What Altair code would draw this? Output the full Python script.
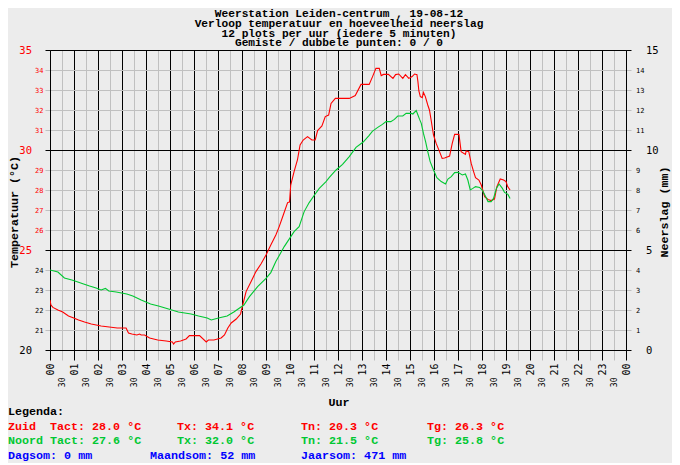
import altair as alt
import pandas as pd

MONO = "DejaVu Sans Mono"
LMONO = "Liberation Mono"
RED = "#ff0000"
GREEN = "#00c832"
BLUE = "#0000ff"
BG = "#ececec"

# ---- data ----
zuid_hours = [0.00, 0.04, 0.12, 0.33, 0.53, 0.77, 0.99, 1.19, 1.44, 1.72, 2.13, 2.80, 3.17, 3.27, 3.41, 3.62,
              3.73, 3.80, 3.94, 4.15, 4.49, 4.84, 5.10, 5.15, 5.22, 5.44, 5.67, 5.81, 6.02, 6.23, 6.51, 6.60,
              6.83, 7.13, 7.27, 7.41, 7.55, 7.76, 7.94, 8.03, 8.17, 8.38, 8.58, 8.79, 9.00, 9.20, 9.41, 9.55,
              9.72, 9.90, 9.98, 10.03, 10.17, 10.31, 10.42, 10.55, 10.73, 10.91, 11.05, 11.15, 11.33, 11.47,
              11.61, 11.71, 11.89, 12.47, 12.72, 12.96, 13.30, 13.44, 13.58, 13.72, 13.80, 13.90, 14.10, 14.29,
              14.40, 14.53, 14.70, 14.81, 14.95, 15.09, 15.19, 15.29, 15.33, 15.37, 15.43, 15.51, 15.56, 15.64,
              15.74, 15.81, 15.88, 15.98, 16.09, 16.23, 16.34, 16.44, 16.65, 16.76, 16.86, 17.04, 17.13, 17.31,
              17.34, 17.45, 17.55, 17.65, 17.73, 17.87, 17.97, 18.11, 18.25, 18.38, 18.52, 18.62, 18.76, 18.90,
              19.00, 19.07, 19.17]
zuid_temp = [22.5, 22.25, 22.13, 22.0, 21.9, 21.7, 21.6, 21.5, 21.4, 21.3, 21.2, 21.1, 21.1, 20.85, 20.8, 20.75,
             20.8, 20.75, 20.75, 20.6, 20.5, 20.45, 20.4, 20.3, 20.4, 20.45, 20.55, 20.72, 20.72, 20.72, 20.4, 20.5,
             20.5, 20.6, 20.75, 21.1, 21.35, 21.55, 21.8, 22.25, 22.92, 23.42, 23.92, 24.3, 24.75, 25.25, 25.75, 26.17,
             26.75, 27.37, 27.4, 28.25, 28.92, 29.5, 30.25, 30.5, 30.67, 30.5, 30.5, 30.97, 31.2, 31.67,
             31.75, 32.33, 32.58, 32.58, 32.72, 33.28, 33.28, 33.67, 34.08, 34.08, 33.72, 33.78, 33.78, 33.58,
             33.77, 33.8, 33.58, 33.77, 33.58, 33.67, 33.8, 33.77, 33.42, 32.95, 32.67, 32.62, 32.88, 32.67,
             32.25, 32.0, 31.5, 30.75, 30.33, 29.92, 29.58, 29.6, 29.7, 30.33, 30.78, 30.78, 29.92, 29.78,
             29.95, 29.92, 29.33, 28.92, 28.62, 28.5, 28.25, 27.67, 27.53, 27.47, 27.55, 28.17, 28.55, 28.5,
             28.42, 28.17, 28.0]

noord_hours = [0.00, 0.33, 0.60, 0.91, 1.16, 1.40, 1.65, 1.92, 2.13, 2.31, 2.45, 2.76, 3.20, 3.45, 3.80, 4.19,
               4.52, 4.80, 5.35, 5.88, 6.19, 6.55, 6.72, 7.02, 7.38, 7.66, 7.90, 8.08, 8.31, 8.65, 9.00, 9.20,
               9.41, 9.76, 10.17, 10.38, 10.59, 10.80, 11.02, 11.22, 11.50, 11.64, 11.92, 12.19, 12.47, 12.75,
               13.05, 13.29, 13.43, 13.64, 13.85, 14.00, 14.20, 14.35, 14.49, 14.70, 14.84, 15.05, 15.12, 15.26,
               15.33, 15.40, 15.47, 15.56, 15.65, 15.74, 15.84, 15.98, 16.12, 16.30, 16.48, 16.58, 16.72, 16.86,
               17.00, 17.18, 17.31, 17.41, 17.51, 17.62, 17.73, 17.90, 18.01, 18.15, 18.25, 18.38, 18.48, 18.60,
               18.71, 18.85, 18.94, 19.08, 19.17]
noord_temp = [24.0, 23.9, 23.6, 23.5, 23.4, 23.3, 23.2, 23.1, 23.0, 23.08, 22.95, 22.9, 22.8, 22.7, 22.5, 22.3,
              22.2, 22.1, 21.9, 21.8, 21.7, 21.6, 21.5, 21.6, 21.7, 21.9, 22.1, 22.25, 22.67, 23.17, 23.58, 23.87,
              24.42, 25.17, 25.92, 26.17, 26.92, 27.37, 27.75, 28.08, 28.42, 28.63, 29.0, 29.28, 29.67, 30.13,
              30.4, 30.72, 30.93, 31.12, 31.28, 31.42, 31.42, 31.53, 31.7, 31.7, 31.83, 31.83, 31.8, 31.97,
              31.75, 31.53, 31.33, 30.83, 30.42, 29.92, 29.42, 29.0, 28.62, 28.42, 28.3, 28.55, 28.67, 28.87,
              28.88, 28.75, 28.8, 28.5, 28.0, 28.08, 28.17, 28.13, 28.0, 27.67, 27.42, 27.42, 27.58, 28.08,
              28.3, 28.08, 27.88, 27.78, 27.58]

rain_hours = list(range(0, 20))
rain_mm = [0] * 20

title_lines = ["Weerstation Leiden-centrum , 19-08-12",
               "Verloop temperatuur en hoeveelheid neerslag",
               "12 plots per uur (iedere 5 minuten)",
               "Gemiste / dubbele punten: 0 / 0"]

stations = ["Zuid", "Noord"]
tact = [28.0, 27.6]
tx = [34.1, 32.0]
tn = [20.3, 21.5]
tg = [26.3, 25.8]
dagsom, maandsom, jaarsom = 0, 52, 471

df = pd.concat([
    pd.DataFrame({"uur": zuid_hours, "temp": zuid_temp, "station": "Zuid"}),
    pd.DataFrame({"uur": noord_hours, "temp": noord_temp, "station": "Noord"}),
])
rain = pd.DataFrame({"uur": rain_hours, "mm": rain_mm})


def cond(test, a, b):
    return {"condition": {"test": test, "value": a}, "value": b}


HOUR = "datum.value % 1 === 0"
MAJ = "datum.value % 5 === 0"

x_axis = alt.Axis(
    values=[i * 0.5 for i in range(49)],
    grid=True, gridColor=cond(HOUR, "black", "#c0c0c0"), gridWidth=1,
    ticks=True, tickSize=10, tickColor=cond(HOUR, "black", "#c0c0c0"),
    domainColor="black",
    labelExpr="datum.value % 1 === 0 ? ((datum.value % 24) < 10 ? '0' : '') + (datum.value % 24) : '30'",
    labelAngle=270, labelAlign="right", labelBaseline="middle",
    labelFont=MONO, labelColor="black",
    labelFontSize=cond(HOUR, 10, 8),
    labelPadding=cond(HOUR, 3, 17),
    labelOverlap=False, labelFlush=False,
    title=None,
)

y_axis = alt.Axis(
    values=list(range(20, 36)),
    grid=True, gridColor=cond(MAJ, "black", "#c0c0c0"),
    tickSize=5, tickColor=cond(MAJ, "black", "#c0c0c0"),
    domainColor="black",
    labelFont=MONO, labelBaseline="middle",
    labelColor=cond("datum.value >= 25", RED, "black"),
    labelFontSize=cond(MAJ, 10.5, 7),
    labelPadding=cond(MAJ, 13.5, 2),
    title=None,
)

y2_axis = alt.Axis(
    orient="right",
    values=list(range(0, 16)),
    grid=False,
    tickSize=5, tickColor=cond(MAJ, "black", "#c0c0c0"),
    domainColor="black",
    labelFont=MONO, labelBaseline="middle", labelColor="black",
    labelFontSize=cond(MAJ, 10.5, 7),
    labelPadding=cond(MAJ, 14.5, 4.5),
    title=None,
)

xscale = alt.Scale(domain=[0, 24], nice=False, zero=False, padding=0)

lines = alt.Chart(df).mark_line(strokeWidth=1.1, clip=True).encode(
    x=alt.X("uur:Q", scale=xscale, axis=x_axis),
    y=alt.Y("temp:Q", scale=alt.Scale(domain=[20, 35], nice=False, zero=False), axis=y_axis),
    color=alt.Color("station:N", scale=alt.Scale(domain=stations, range=[RED, GREEN]), legend=None),
    detail="station:N",
)

bars = alt.Chart(rain).mark_bar(color=BLUE, size=4).encode(
    x=alt.X("uur:Q", scale=xscale, axis=x_axis),
    y=alt.Y("mm:Q", scale=alt.Scale(domain=[0, 15], nice=False, zero=True), axis=y2_axis),
)


def txt(s, x, y, color="black", size=11.7, bold=True, align="left", angle=0, font=LMONO):
    # x, y are page pixel positions; the view origin sits at page (50, 50)
    return alt.Chart(alt.Data(values=[{}])).mark_text(
        text=s, font=font, fontSize=size, fontWeight="bold" if bold else "normal",
        color=color, align=align, baseline="alphabetic", angle=angle,
    ).encode(x=alt.value(x - 50), y=alt.value(y - 50))


texts = []
for i, line in enumerate(title_lines):
    texts.append(txt(line, 339, 17 + 9.8 * i, size=11.2, align="center"))
texts.append(txt("Temperatuur (°C)", 18, 212, align="center", angle=270))
texts.append(txt("Neerslag (mm)", 668, 212, align="center", angle=270))
texts.append(txt("Uur", 339, 405.5, align="center"))
texts.append(txt("Legenda:", 8, 414.5))
row_y = [429.5, 444]
cols = [RED, GREEN]
for i, st in enumerate(stations):
    texts.append(txt(st, 8, row_y[i], color=cols[i]))
    texts.append(txt(f"Tact: {tact[i]:.1f} °C", 50, row_y[i], color=cols[i]))
    texts.append(txt(f"Tx: {tx[i]:.1f} °C", 177, row_y[i], color=cols[i]))
    texts.append(txt(f"Tn: {tn[i]:.1f} °C", 301, row_y[i], color=cols[i]))
    texts.append(txt(f"Tg: {tg[i]:.1f} °C", 427, row_y[i], color=cols[i]))
texts.append(txt(f"Dagsom: {dagsom} mm", 8, 458.5, color=BLUE))
texts.append(txt(f"Maandsom: {maandsom} mm", 150, 458.5, color=BLUE))
texts.append(txt(f"Jaarsom: {jaarsom} mm", 301, 458.5, color=BLUE))

chart = alt.layer(lines, bars, *texts).resolve_scale(y="independent").properties(
    width=576, height=300,
    autosize=alt.AutoSizeParams(type="none"),
    padding={"left": 42, "top": 42, "right": 46, "bottom": 113},
    background=BG,
).configure_view(stroke=None)

chart.save("out.html", embed_options={"renderer": "svg", "actions": False})
